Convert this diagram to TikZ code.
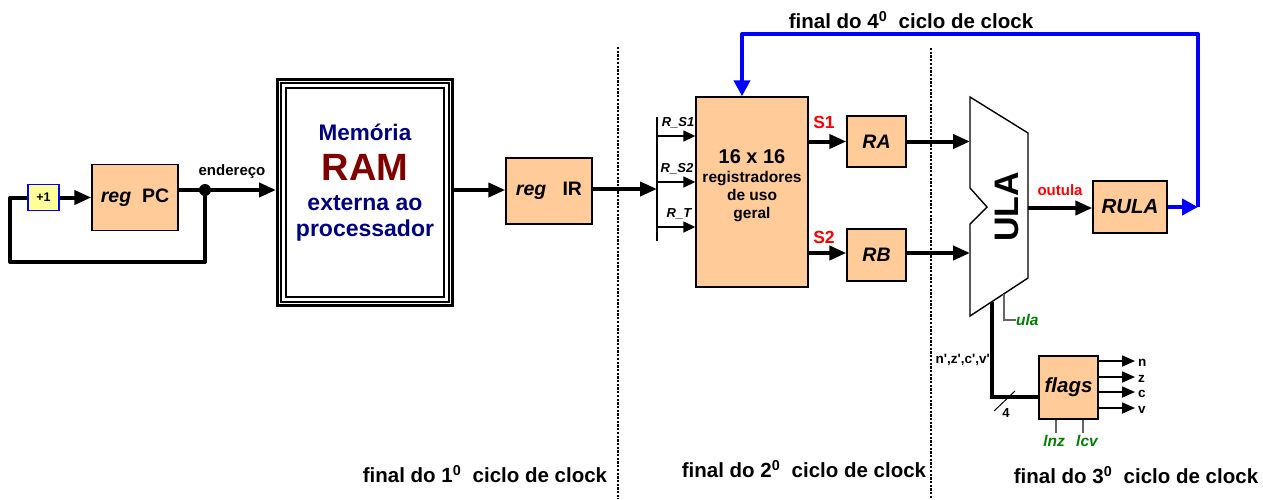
\documentclass[tikz,border=0pt]{standalone}
\usepackage{fontspec}
\setmainfont{Liberation Sans}
\newfontfamily\straightfont{Liberation Sans}[Ligatures=ResetAll]
\usetikzlibrary{arrows.meta,calc}
\definecolor{peach}{HTML}{FFCC99}
\definecolor{incfill}{HTML}{FFFF99}
\definecolor{navytxt}{HTML}{000080}
\definecolor{ramred}{HTML}{800000}
\definecolor{ctrlgreen}{HTML}{008000}
\newcommand\sz[1]{\fontsize{#1}{#1}\selectfont}
\tikzset{
  regbox/.style={draw, line width=1.4pt, fill=peach, inner sep=0pt},
  wire/.style={line width=4pt},
  bigarrow/.style={line width=4pt, -{Triangle[length=17pt,width=14pt]}},
  thinarrow/.style={line width=1.5pt, -{Triangle[length=12pt,width=11pt]}},
  flagarrow/.style={line width=1.8pt, -{Triangle[length=13pt,width=11pt]}},
  backarrow/.style={line width=4pt, blue, -{Triangle[length=16pt,width=16pt]}},
  ctrl/.style={draw=black!60, line width=1.2pt},
  dotsep/.style={line width=2.7pt, dash pattern=on 2.3pt off 1.4pt},
  ctrltxt/.style={text=ctrlgreen, font=\bfseries\itshape\sz{15.5}, inner sep=0pt},
  stagetxt/.style={font=\bfseries\sz{20.5}, inner sep=0pt}
}
\begin{document}
\begin{tikzpicture}[x=1pt,y=-1pt]
\useasboundingbox (0,0) rectangle (1263,499);

% clock-cycle separators
\draw[dotsep] (618,47) -- (618,499);
\draw[dotsep] (931,48) -- (931,499);

% program counter and incrementer
\node[draw=blue, line width=1.4pt, fill=incfill, minimum width=31pt, minimum height=26pt, inner sep=0pt, font=\bfseries\sz{12.5}] (inc) at (43.5,197.5) {+1};
\node[regbox, minimum width=86pt, minimum height=66pt, font=\bfseries\sz{19.5}] (PC) at (135,197.5) {\textit{reg}\ \ PC};
\coordinate (addr) at (205,190);
\coordinate (fb) at (10,262);

% external memory
\node[draw, line width=3pt, minimum width=175pt, minimum height=226pt, inner sep=0pt] (RAM) at (365,192.5) {};
\draw[line width=2.4pt] ($(RAM.north west)+(5,5)$) rectangle ($(RAM.south east)+(-5,-5)$);
\draw[line width=2.4pt] ($(RAM.north west)+(10,10)$) rectangle ($(RAM.south east)+(-10,-10)$);
\node[text=navytxt, font=\bfseries\sz{22.5}, inner sep=0pt] (memtxt) at (365,132) {Memória};
\node[text=ramred, font=\bfseries\sz{38}, inner sep=0pt] (ramtxt) at (365,167) {RAM};
\node[text=navytxt, font=\bfseries\sz{23}, inner sep=0pt, align=center] (exttxt) at (365,218) {externa ao\\[3pt]processador};

% instruction register
\node[regbox, minimum width=86pt, minimum height=66pt, font=\bfseries\sz{19.5}] (IR) at (549,191) {\textit{reg}\ \ \ IR};

% register bank and its address bus
\coordinate (bustop) at (657,117);
\coordinate (busbot) at (657,241);
\coordinate (rs1) at (657,136);
\coordinate (rs2) at (657,182);
\coordinate (rt) at (657,227);
\node[regbox, minimum width=112pt, minimum height=190pt] (bank) at (752,192) {};
\node[font=\bfseries\sz{20}, inner sep=0pt] (banktitle) at (752,157) {16 x 16};
\node[font=\bfseries\sz{15.5}, inner sep=0pt, align=center] (banktxt) at (752,197) {registradores\\[2.5pt]de uso\\[2.5pt]geral};

\node[regbox, minimum width=59pt, minimum height=51pt, font=\bfseries\itshape\sz{19.5}] (RA) at (876.5,141.5) {RA};
\node[regbox, minimum width=59pt, minimum height=52pt, font=\bfseries\itshape\sz{19.5}] (RB) at (876.5,255) {RB};
\node[text=red, font=\bfseries\sz{17.5}, inner sep=0pt] (s1) at (824,122) {S1};
\node[text=red, font=\bfseries\sz{17.5}, inner sep=0pt] (s2) at (824,237) {S2};

% arithmetic-logic unit
\coordinate (uTL) at (970,97);
\coordinate (uTR) at (1028,133);
\coordinate (uBR) at (1028,278);
\coordinate (uBL) at (970,316);
\coordinate (uN1) at (970,188);
\coordinate (uN2) at (987,207);
\coordinate (uN3) at (970,224);
\draw[line width=1.4pt, fill=white] (uTL) -- (uTR) -- (uBR) -- (uBL) -- (uN3) -- (uN2) -- (uN1) -- cycle;
\node[rotate=90, font=\bfseries\sz{34}, inner sep=0pt] (ulatxt) at (1007,207) {ULA};
\coordinate (ulaout) at (1028,208);
\coordinate (ulactl) at (1004,294);
\coordinate (ulactlend) at (1016,320);
\coordinate (flagsrc) at (992,302);
\coordinate (flagbend) at (992,397);

\node[regbox, minimum width=74pt, minimum height=52pt, font=\bfseries\itshape\sz{20.5}] (RULA) at (1130,207) {RULA};
\node[text=red, font=\bfseries\sz{15}, inner sep=0pt] (outula) at (1060,190) {outula};
\coordinate (corner) at (1198,207);
\coordinate (fbtop) at (742,34);

% status flags
\node[regbox, minimum width=59pt, minimum height=63pt, font=\bfseries\itshape\sz{20.5}] (flags) at (1068.5,387.5) {flags};

% ---- connections ----
\draw[bigarrow] (inc) -- (PC);
\draw[bigarrow] (PC.east |- addr) -- (RAM.west |- addr);
\draw[wire, line join=round] (addr) |- (fb) |- (inc.west);
\fill (addr) circle (6pt);
\node[font=\bfseries\sz{15}, inner sep=0pt] (addrtxt) at (232,172) {endereço};

\draw[bigarrow] (RAM.east |- 0,190) -- (IR.west |- 0,190);
\draw[bigarrow] (IR.east |- 0,189) -- (bustop |- 0,189);
\draw[line width=1.6pt] (bustop) -- (busbot);
\draw[thinarrow] (rs1) -- (rs1 -| bank.west);
\draw[thinarrow] (rs2) -- (rs2 -| bank.west);
\draw[thinarrow] (rt) -- (rt -| bank.west);
\node[font=\bfseries\itshape\sz{13}, inner sep=0pt] (lrs1) at (678,123) {R\_S1};
\node[font=\bfseries\itshape\sz{13}, inner sep=0pt] (lrs2) at (677,169) {R\_S2};
\node[font=\bfseries\itshape\sz{13}, inner sep=0pt] (lrt) at (679,214) {R\_T};

\draw[bigarrow] (bank.east |- RA.west) -- (RA.west);
\draw[bigarrow] (bank.east |- 0,253) -- (RB.west |- 0,253);
\draw[bigarrow] (RA.east) -- (RA.east -| uTL);
\draw[bigarrow] (RB.east |- 0,253) -- (uTL |- 0,253);
\draw[bigarrow] (ulaout) -- (RULA.west |- ulaout);

\draw[backarrow] (RULA.east) -- (corner);
\draw[backarrow, line join=round] (corner) -- (corner |- fbtop) -- (fbtop) -- (fbtop |- bank.north);
\node[font=\bfseries\sz{20.5}, inner sep=0pt] (cyc4) at (911,20) {final do 4\textsuperscript{0}\ \ ciclo de clock};

\draw[ctrl] (ulactl) |- (ulactlend);
\node[ctrltxt, anchor=west] (ulalbl) at (ulactlend) {ula};

\draw[line width=3.2pt] (flagsrc) -- (flagbend) -- (flagbend -| flags.west);
\draw[line width=1pt] (994,411) -- (1015,391);
\node[font=\bfseries\sz{13}, inner sep=0pt] (four) at (1006,413) {4};
\node[font=\straightfont\bfseries\sz{13.5}, inner sep=0pt, anchor=east] (flagin) at (990,360) {n',z',c',v'};

\foreach \yy/\lab in {361/n,377/z,392/c,408/v}{
  \coordinate (fo\lab) at (1135,\yy);
  \draw[flagarrow] (flags.east |- fo\lab) -- (fo\lab);
  \node[font=\bfseries\sz{13.5}, inner sep=0pt, anchor=west] (lbl\lab) at (1138,\yy+2) {\lab};
}
\coordinate (lnzend) at (1056,433);
\coordinate (lcvend) at (1083,433);
\draw[ctrl] (flags.south -| lnzend) -- (lnzend);
\draw[ctrl] (flags.south -| lcvend) -- (lcvend);
\node[ctrltxt] (lnz) at (1054,441) {lnz};
\node[ctrltxt] (lcv) at (1087,441) {lcv};

% end-of-cycle labels
\node[stagetxt] (cyc1) at (485,474) {final do 1\textsuperscript{0}\ \ ciclo de clock};
\node[stagetxt] (cyc2) at (804,469) {final do 2\textsuperscript{0}\ \ ciclo de clock};
\node[stagetxt] (cyc3) at (1136,475) {final do 3\textsuperscript{0}\ \ ciclo de clock};
\end{tikzpicture}
\end{document}
